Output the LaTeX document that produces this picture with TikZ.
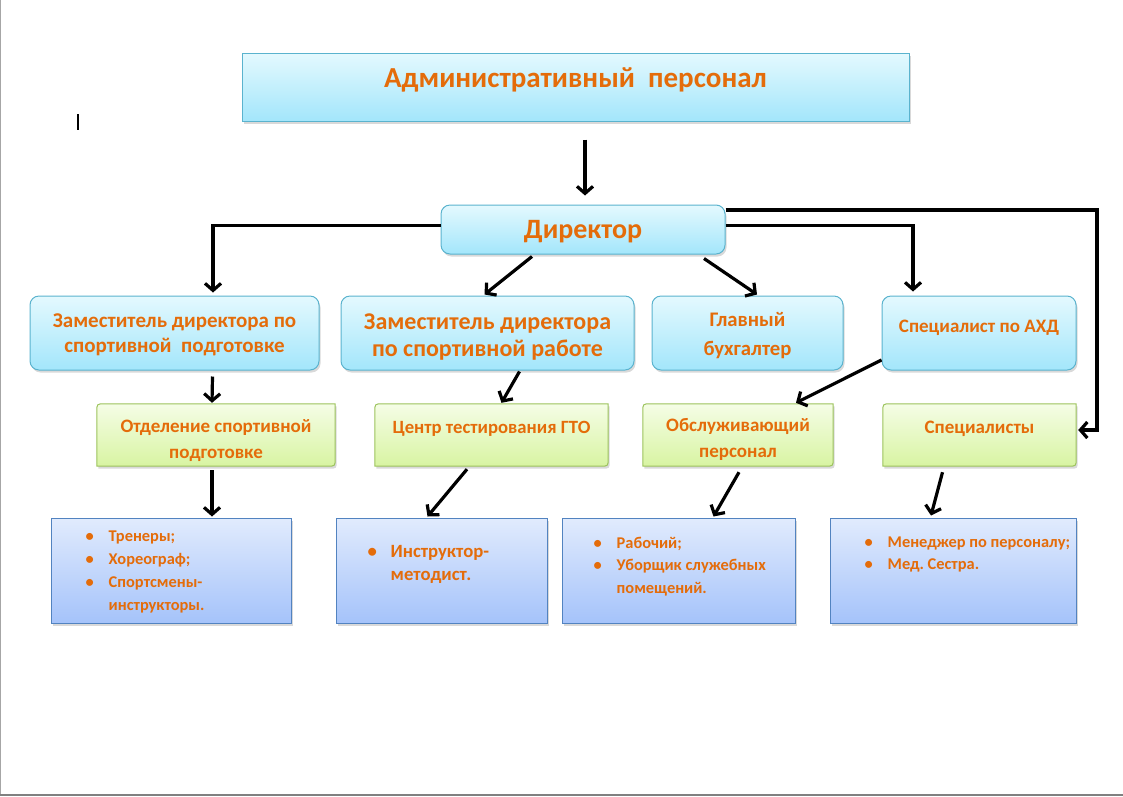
\documentclass[tikz,border=0pt]{standalone}
\usepackage{fontspec}
\setmainfont{Carlito}
\usetikzlibrary{positioning,arrows.meta,shadows,backgrounds}

\definecolor{txtor}{HTML}{E46C0A}
\definecolor{cyantop}{HTML}{E4F9FE}
\definecolor{cyanbot}{HTML}{A3E6FB}
\definecolor{cyanline}{HTML}{5AB3CE}
\definecolor{grtop}{HTML}{F5FDE6}
\definecolor{grbot}{HTML}{D8F4A2}
\definecolor{grline}{HTML}{9CC35C}
\definecolor{bltop}{HTML}{E1EBFD}
\definecolor{blbot}{HTML}{A5C3FA}
\definecolor{blline}{HTML}{5283C0}

\newcommand{\itm}{\makebox[23pt][l]{\textbullet}}
\newcommand{\cnt}{\hspace*{23pt}}
\frenchspacing

\begin{document}
\begin{tikzpicture}[x=1pt,y=-1pt,
  shd/.style={drop shadow={opacity=0.3, shadow xshift=1.5pt, shadow yshift=-2.5pt}},
  cyanbox/.style={draw=cyanline, line width=1pt, top color=cyantop, bottom color=cyanbot,
    inner sep=0pt, shd},
  roundbox/.style={cyanbox, rounded corners=9pt},
  greenbox/.style={inner sep=0pt},
  greenshape/.style={draw=grline, line width=1pt, top color=grtop, bottom color=grbot, shd},
  bluebox/.style={draw=blline, line width=1pt, top color=bltop, bottom color=blbot,
    inner sep=0pt, shd},
  txt/.style={text=txtor, align=center, inner sep=0pt},
  arr/.style={line width=3.2pt, -{Straight Barb[length=7pt,width=16pt]}},
  bfont/.style n args={2}{font=\bfseries\fontsize{#1}{#2}\selectfont}
]
\useasboundingbox (0,0) rectangle (1123,796);

% page edges and cursor
\draw[color=gray!70, line width=1.2pt] (0.6,0) -- (0.6,796);
\draw[color=gray, line width=2pt] (0,795) -- (1123,795);
\draw[line width=1.6pt] (78,114) -- (78,130);

% Top level
\node[cyanbox, minimum width=667pt, minimum height=68pt] (adm) at (575.5,87) {};
\node[txt, bfont={29}{34}, anchor=base] (admtxt) at ([yshift=-35pt]adm.north)
  {Административный\ \ персонал};

\node[roundbox, minimum width=284pt, minimum height=49pt] (dir) at (583,229.5) {};
\node[txt, bfont={28}{32}, anchor=base] (dirtxt) at ([yshift=-9pt]dir.center) {Директор};

% Second row
\node[roundbox, minimum width=289pt, minimum height=74pt] (zam1) at (174.5,333) {};
\node[txt, bfont={21}{25}] (zam1txt) at ([yshift=-1.5pt]zam1.center)
  {Заместитель\ директора\ по\\спортивной\ \ подготовке};
\node[roundbox, minimum width=293pt, minimum height=74pt] (zam2) at (487.5,333) {};
\node[txt, bfont={24}{27}] (zam2txt) at ([yshift=-4.5pt]zam2.center)
  {Заместитель директора\\по спортивной работе};
\node[roundbox, minimum width=191pt, minimum height=74pt] (glav) at (747.5,333) {};
\node[txt, bfont={20.7}{29}] (glavtxt) at ([yshift=-3pt]glav.center) {Главный\\бухгалтер};
\node[roundbox, minimum width=194pt, minimum height=74pt] (axd) at (979,333) {};
\node[txt, bfont={19}{22}, anchor=base] (axdtxt) at ([yshift=-36.5pt]axd.north) {Специалист по АХД};

% Third row
\node[greenbox, minimum width=238pt, minimum height=62pt] (otd) at (216,435) {};
\node[txt, bfont={19}{26}] (otdtxt) at ([yshift=-5.5pt]otd.center) {Отделение спортивной\\подготовке};
\node[greenbox, minimum width=233pt, minimum height=62pt] (centr) at (491.5,435) {};
\node[txt, bfont={18.7}{22}, anchor=base] (centrtxt) at ([yshift=-29.5pt]centr.north) {Центр тестирования ГТО};
\node[greenbox, minimum width=190pt, minimum height=62pt] (obsl) at (738,435) {};
\node[txt, bfont={19}{26}] (obsltxt) at ([yshift=-4.5pt]obsl.center) {Обслуживающий\\персонал};
\node[greenbox, minimum width=193pt, minimum height=62pt] (spec) at (979.5,435) {};
\node[txt, bfont={19}{22}, anchor=base] (spectxt) at ([yshift=-29.5pt]spec.north) {Специалисты};

\begin{scope}[on background layer]
\foreach \n in {otd,centr,obsl,spec}
  \path[greenshape] (\n.north east) -- ([xshift=8pt]\n.north west)
    .. controls (\n.north west) .. ([yshift=-8pt]\n.north west) -- (\n.south west)
    -- ([xshift=-8pt]\n.south east) .. controls (\n.south east) .. ([yshift=8pt]\n.south east)
    -- cycle;
\end{scope}

% Bottom row
\node[bluebox, minimum width=240pt, minimum height=105pt] (b1) at (171,570.5) {};
\node[bluebox, minimum width=211pt, minimum height=105pt] (b2) at (441.5,570.5) {};
\node[bluebox, minimum width=233pt, minimum height=105pt] (b3) at (678.5,570.5) {};
\node[bluebox, minimum width=246pt, minimum height=105pt] (b4) at (953,570.5) {};

\node[txt, align=left, bfont={16.4}{23}, anchor=north west] (l1) at ([xshift=35pt,yshift=-13pt]b1.north west)
  {\itm Тренеры;\\\itm Хореограф;\\\itm Спортсмены-\\\cnt инструкторы.};
\node[txt, align=left, bfont={18.7}{23}, anchor=north west] (l2) at ([xshift=32pt,yshift=-28pt]b2.north west)
  {\itm Инструктор-\\\cnt методист.};
\node[txt, align=left, bfont={16.4}{22.5}, anchor=north west] (l3) at ([xshift=32pt,yshift=-19pt]b3.north west)
  {\itm Рабочий;\\\itm Уборщик служебных\\\cnt помещений.};
\node[txt, align=left, bfont={16.4}{22.5}, anchor=north west] (l4) at ([xshift=35pt,yshift=-19pt]b4.north west)
  {\itm Менеджер по персоналу;\\\itm Мед. Сестра.};

% Arrows
\coordinate (rt) at (1097,210);
\draw[arr] ([xshift=9.5pt,yshift=-18pt]adm.south) -- ([xshift=2pt,yshift=9pt]dir.north);
\draw[arr] ([yshift=4pt]dir.west) -| ([xshift=38.5pt,yshift=3pt]zam1.north);
\draw[arr] ([xshift=-51pt,yshift=-2pt]dir.south) -- ([xshift=-3pt,yshift=1pt]zam2.north);
\draw[arr] ([xshift=121pt,yshift=-4pt]dir.south) -- ([xshift=9.5pt,yshift=1pt]glav.north);
\draw[arr] ([yshift=4pt]dir.east) -| ([xshift=-66pt,yshift=4pt]axd.north);
\draw[arr] ([yshift=19.5pt]dir.east) -- (rt) |- ([xshift=2pt,yshift=5pt]spec.east);
\draw[arr] ([xshift=38pt,yshift=-6pt]zam1.south) -- ([xshift=-4pt,yshift=1pt]otd.north);
\draw[arr] ([xshift=32pt,yshift=-1pt]zam2.south) -- ([xshift=10pt,yshift=1pt]centr.north);
\draw[arr] ([yshift=-27pt]axd.west) -- ([xshift=58pt,yshift=1pt]obsl.north);
\draw[arr] ([xshift=-4pt,yshift=-4pt]otd.south) -- ([xshift=41pt,yshift=1pt]b1.north);
\draw[arr] ([xshift=-24.5pt,yshift=-3pt]centr.south) -- ([xshift=-14pt,yshift=1pt]b2.north);
\draw[arr] ([xshift=1pt,yshift=-6pt]obsl.south) -- ([xshift=35pt,yshift=1pt]b3.north);
\draw[arr] ([xshift=-37pt,yshift=-6pt]spec.south) -- ([xshift=-22pt,yshift=2pt]b4.north);

\end{tikzpicture}
\end{document}
